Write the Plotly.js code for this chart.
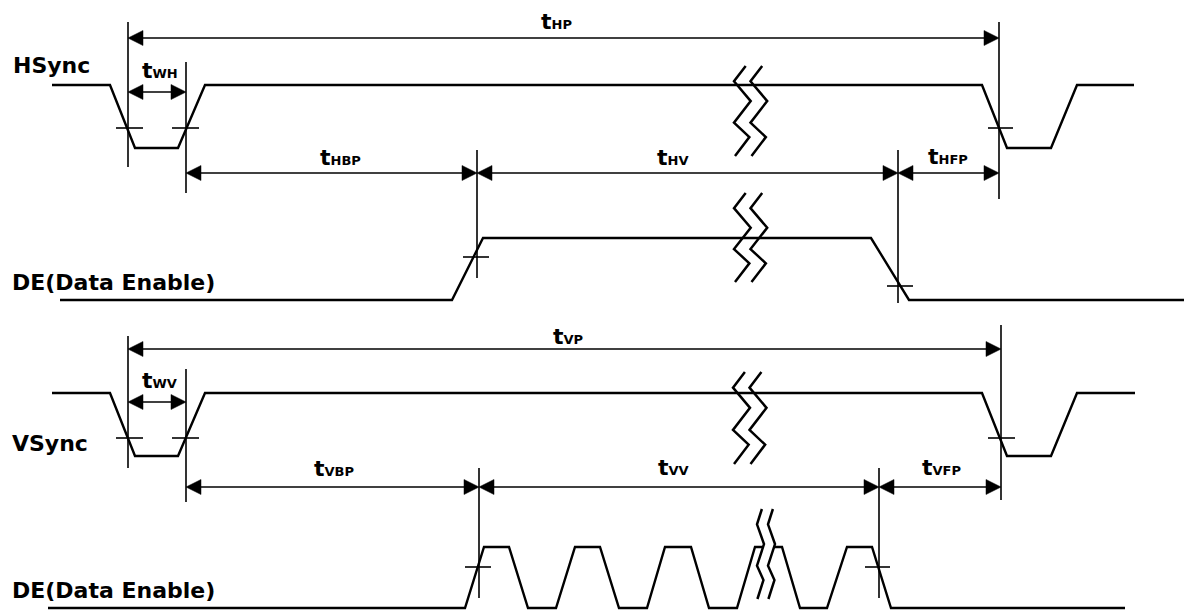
<!DOCTYPE html>
<html><head><meta charset="utf-8">
<script src="https://cdn.plot.ly/plotly-3.0.1.min.js"></script>
<style>html,body{margin:0;padding:0;background:#fff}#chart{width:1184px;height:610px}</style>
</head><body><div id="chart"></div>
<script>
// ---- waveform data (x = time position, y = level position) ----
const hsyncX = [52,110,135,178,205,982,1007,1051,1077,1134];
const hsyncY = [85,85,148,148,85,85,148,148,85,85];
const de1X = [60,452,483,871,909,1184];
const de1Y = [300,300,238,238,300,300];
const vsyncX = [52,110,135,178,205,982,1007,1051,1077,1135];
const vsyncY = [393,393,456,456,393,393,456,456,393,393];
const de2X = [48,465,484,509,528,556,575,600,619,647,665,691,709,737,755,782,800,827,847,872,891,1125];
const de2Y = [608,608,547,547,608,608,547,547,608,608,547,547,608,608,547,547,608,608,547,547,608,608];

// ---- timing reference lines ----
const vLineX   = [128,186,999,477,898,128,186,1001,479,879];
const vLineTop = [22,62,22,150,150,336,369,325,468,468];
const vLineBot = [167,193,199,278,303,468,502,500,598,598];

// ---- dimension arrows ----
const arrowY  = [38,92,173,173,173,349,402,487,487,487];
const arrowX0 = [128,128,186,477,898,128,128,186,479,879];
const arrowX1 = [999,186,477,898,999,1001,186,479,879,1001];

// ---- threshold ticks ----
const tickY  = [128,128,128,257,286,438,438,438,567,567];
const tickX0 = [116,172,988,463,887,116,172,988,465,865];
const tickX1 = [143,199,1013,489,913,143,199,1015,491,890];

// ---- break marks ----
const breakX0 = [734,734,733,757];
const breakTop = [66,193,372,509];
const breakBot = [156,282,464,599];
const breakW = [16.7,16.7,17,7];
const breakGap = [16.5,16.5,16.5,11];
const breakMask = [false,false,false,true];
const zigFx = [0.70,0,1,0,0.92,0.06];
const zigFy = [0,0.17,0.39,0.63,0.79,1];

// ---- labels ----
const signalNames = ['HSync','DE(Data Enable)','VSync','DE(Data Enable)'];
const signalX = [11,10,10,10];
const signalBase = [73,290,451,598];
const timeSubs = ['HP','WH','HBP','HV','HFP','VP','WV','VBP','VV','VFP'];
const timeX = [556,160,340,672,948,568,159,334,673,941];
const timeBase = [29,78,165,165,164,344,388,476,475,475];

const FONT = 'DejaVu Sans, Arial, sans-serif';
const traces = [];
function lineTrace(x, y, w, extra) {
  return Object.assign({type:'scatter', mode:'lines', x:x, y:y, line:{color:'#000', width:w},
    hoverinfo:'skip', showlegend:false}, extra || {});
}
// waveforms
traces.push(lineTrace(hsyncX, hsyncY, 2.4));
traces.push(lineTrace(de1X, de1Y, 2.4));
traces.push(lineTrace(vsyncX, vsyncY, 2.4));
traces.push(lineTrace(de2X, de2Y, 2.4));

// vertical lines
(function(){
  const x=[], y=[];
  vLineX.forEach((v,i)=>{x.push(v,v,null); y.push(vLineTop[i],vLineBot[i],null);});
  traces.push(lineTrace(x,y,1.6));
})();
// ticks
(function(){
  const x=[], y=[];
  tickY.forEach((v,i)=>{x.push(tickX0[i],tickX1[i],null); y.push(v,v,null);});
  traces.push(lineTrace(x,y,1.6));
})();
// arrows
(function(){
  const x=[], y=[], hx=[], hy=[];
  const L=15, H=7.5;
  arrowY.forEach((v,i)=>{
    const a=arrowX0[i], b=arrowX1[i];
    x.push(a+4,b-4,null); y.push(v,v,null);
    hx.push(a,a+L,a+L,a,null); hy.push(v,v-H,v+H,v,null);
    hx.push(b,b-L,b-L,b,null); hy.push(v,v-H,v+H,v,null);
  });
  traces.push(lineTrace(x,y,1.6));
  traces.push({type:'scatter',mode:'lines',x:hx,y:hy,fill:'toself',fillcolor:'#000',
    line:{color:'#000',width:0.5},hoverinfo:'skip',showlegend:false});
})();
// breaks
breakX0.forEach((x0,i)=>{
  const h = breakBot[i]-breakTop[i];
  const lx = zigFx.map(f=>x0+f*breakW[i]);
  const ly = zigFy.map(f=>breakTop[i]+f*h);
  const rx = lx.map(v=>v+breakGap[i]);
  if (breakMask[i]) {
    traces.push({type:'scatter',mode:'lines',x:lx.concat(rx.slice().reverse(),[lx[0]]),
      y:ly.concat(ly.slice().reverse(),[ly[0]]),fill:'toself',fillcolor:'#fff',
      line:{color:'rgba(0,0,0,0)',width:0},hoverinfo:'skip',showlegend:false});
  }
  traces.push(lineTrace(lx.concat([null],rx), ly.concat([null],ly), 2.5));
});

const annotations = [];
signalNames.forEach((t,i)=>{
  annotations.push({xref:'x',yref:'y',x:signalX[i],y:signalBase[i]-8,text:'<b>'+t+'</b>',showarrow:false,
    xanchor:'left',yanchor:'middle',font:{family:FONT,size:22,color:'#000'}});
});
timeSubs.forEach((s,i)=>{
  annotations.push({xref:'x',yref:'y',x:timeX[i],y:timeBase[i]-8,
    text:'<b>t<span style="font-size:13px">'+s+'</span></b>',showarrow:false,
    xanchor:'center',yanchor:'middle',font:{family:FONT,size:22,color:'#000'}});
});

const layout = {
  width:1184, height:610, margin:{l:0,r:0,t:0,b:0,pad:0},
  paper_bgcolor:'#fff', plot_bgcolor:'#fff',
  xaxis:{range:[0,1184],visible:false,fixedrange:true},
  yaxis:{range:[610,0],visible:false,fixedrange:true},
  showlegend:false, annotations:annotations
};
Plotly.newPlot('chart', traces, layout, {staticPlot:true, displayModeBar:false});
</script>
</body></html>
